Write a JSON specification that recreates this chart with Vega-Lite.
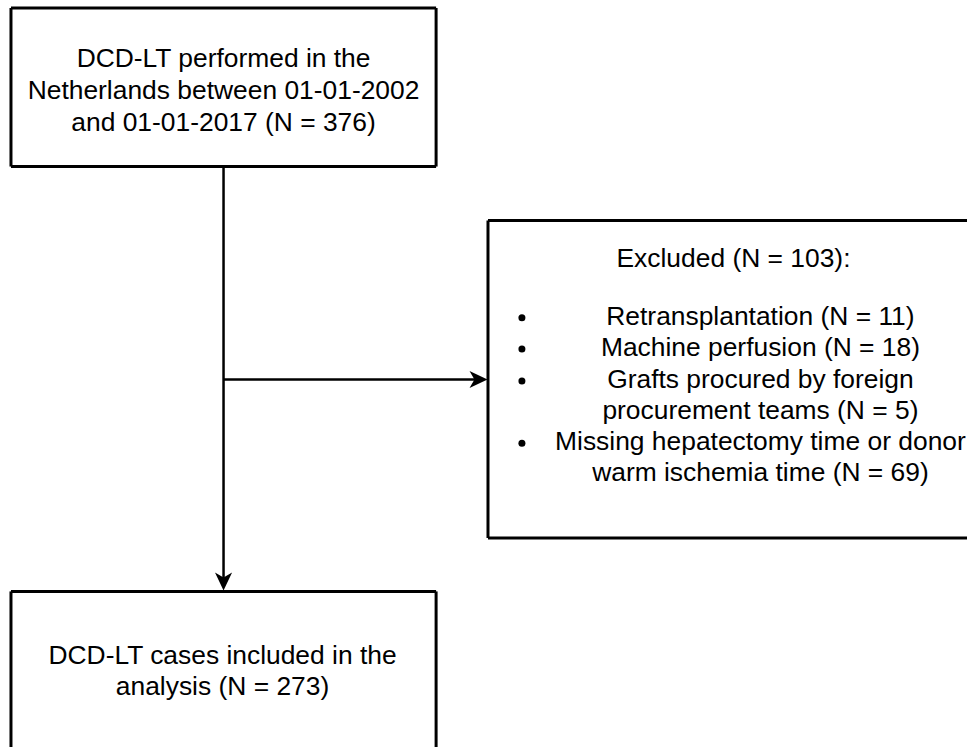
{
  "$schema": "https://vega.github.io/schema/vega-lite/v6.json",
  "width": 969,
  "height": 749,
  "autosize": {"type": "fit", "contains": "padding"},
  "padding": 0,
  "background": "white",
  "config": {"view": {"stroke": null}},
  "datasets": {
    "boxEdges": [
      {"x": 11, "y": 8, "x2": 437, "y2": 8},
      {"x": 11, "y": 167, "x2": 437, "y2": 167},
      {"x": 11, "y": 8, "x2": 11, "y2": 167},
      {"x": 437, "y": 8, "x2": 437, "y2": 167},
      {"x": 489, "y": 221, "x2": 969, "y2": 221},
      {"x": 489, "y": 539.5, "x2": 969, "y2": 539.5},
      {"x": 489, "y": 221, "x2": 489, "y2": 539.5},
      {"x": 11, "y": 593, "x2": 437, "y2": 593},
      {"x": 11, "y": 593, "x2": 11, "y2": 749},
      {"x": 437, "y": 593, "x2": 437, "y2": 749}
    ],
    "connectors": [
      {"x": 224, "y": 167, "x2": 224, "y2": 585},
      {"x": 224, "y": 380.5, "x2": 481, "y2": 380.5}
    ],
    "arrows": [
      {"x": 479.5, "y": 380.5, "dir": "right"},
      {"x": 224, "y": 583, "dir": "down"}
    ],
    "texts": [
      {"x": 224, "y": 67, "label": "DCD-LT performed in the"},
      {"x": 224, "y": 99, "label": "Netherlands between 01-01-2002"},
      {"x": 224, "y": 131, "label": "and 01-01-2017 (N = 376)"},
      {"x": 735, "y": 268, "label": "Excluded (N = 103):"},
      {"x": 762, "y": 326, "label": "Retransplantation (N = 11)"},
      {"x": 762, "y": 357.3, "label": "Machine perfusion (N = 18)"},
      {"x": 762, "y": 388.6, "label": "Grafts procured by foreign"},
      {"x": 762, "y": 420, "label": "procurement teams (N = 5)"},
      {"x": 762, "y": 451.2, "label": "Missing hepatectomy time or donor"},
      {"x": 762, "y": 482.5, "label": "warm ischemia time (N = 69)"},
      {"x": 223, "y": 666, "label": "DCD-LT cases included in the"},
      {"x": 223, "y": 697, "label": "analysis (N = 273)"}
    ],
    "bullets": [
      {"x": 523, "y": 318.5},
      {"x": 523, "y": 350},
      {"x": 523, "y": 382},
      {"x": 523, "y": 444.5}
    ]
  },
  "layer": [
    {
      "data": {"name": "boxEdges"},
      "mark": {"type": "rule", "color": "black", "strokeWidth": 3},
      "encoding": {
        "x": {"field": "x", "type": "quantitative", "scale": {"domain": [0, 969], "nice": false, "zero": false}, "axis": null},
        "y": {"field": "y", "type": "quantitative", "scale": {"domain": [0, 749], "nice": false, "zero": false, "reverse": true}, "axis": null},
        "x2": {"field": "x2"},
        "y2": {"field": "y2"}
      }
    },
    {
      "data": {"name": "connectors"},
      "mark": {"type": "rule", "color": "black", "strokeWidth": 2.5},
      "encoding": {
        "x": {"field": "x", "type": "quantitative"},
        "y": {"field": "y", "type": "quantitative"},
        "x2": {"field": "x2"},
        "y2": {"field": "y2"}
      }
    },
    {
      "data": {"name": "arrows"},
      "mark": {"type": "point", "filled": true, "color": "black", "size": 324, "opacity": 1, "strokeWidth": 0},
      "encoding": {
        "x": {"field": "x", "type": "quantitative"},
        "y": {"field": "y", "type": "quantitative"},
        "shape": {
          "field": "dir",
          "type": "nominal",
          "scale": {
            "domain": ["right", "down"],
            "range": ["M 1 0 L -1 -0.95 L -0.45 0 L -1 0.95 Z", "M 0 1 L -0.95 -1 L 0 -0.45 L 0.95 -1 Z"]
          },
          "legend": null
        }
      }
    },
    {
      "data": {"name": "bullets"},
      "mark": {"type": "point", "shape": "circle", "filled": true, "color": "black", "size": 49, "opacity": 1},
      "encoding": {
        "x": {"field": "x", "type": "quantitative"},
        "y": {"field": "y", "type": "quantitative"}
      }
    },
    {
      "data": {"name": "texts"},
      "mark": {"type": "text", "font": "Liberation Sans", "fontSize": 26.4, "align": "center", "baseline": "alphabetic", "color": "black"},
      "encoding": {
        "x": {"field": "x", "type": "quantitative"},
        "y": {"field": "y", "type": "quantitative"},
        "text": {"field": "label", "type": "nominal"}
      }
    }
  ]
}
